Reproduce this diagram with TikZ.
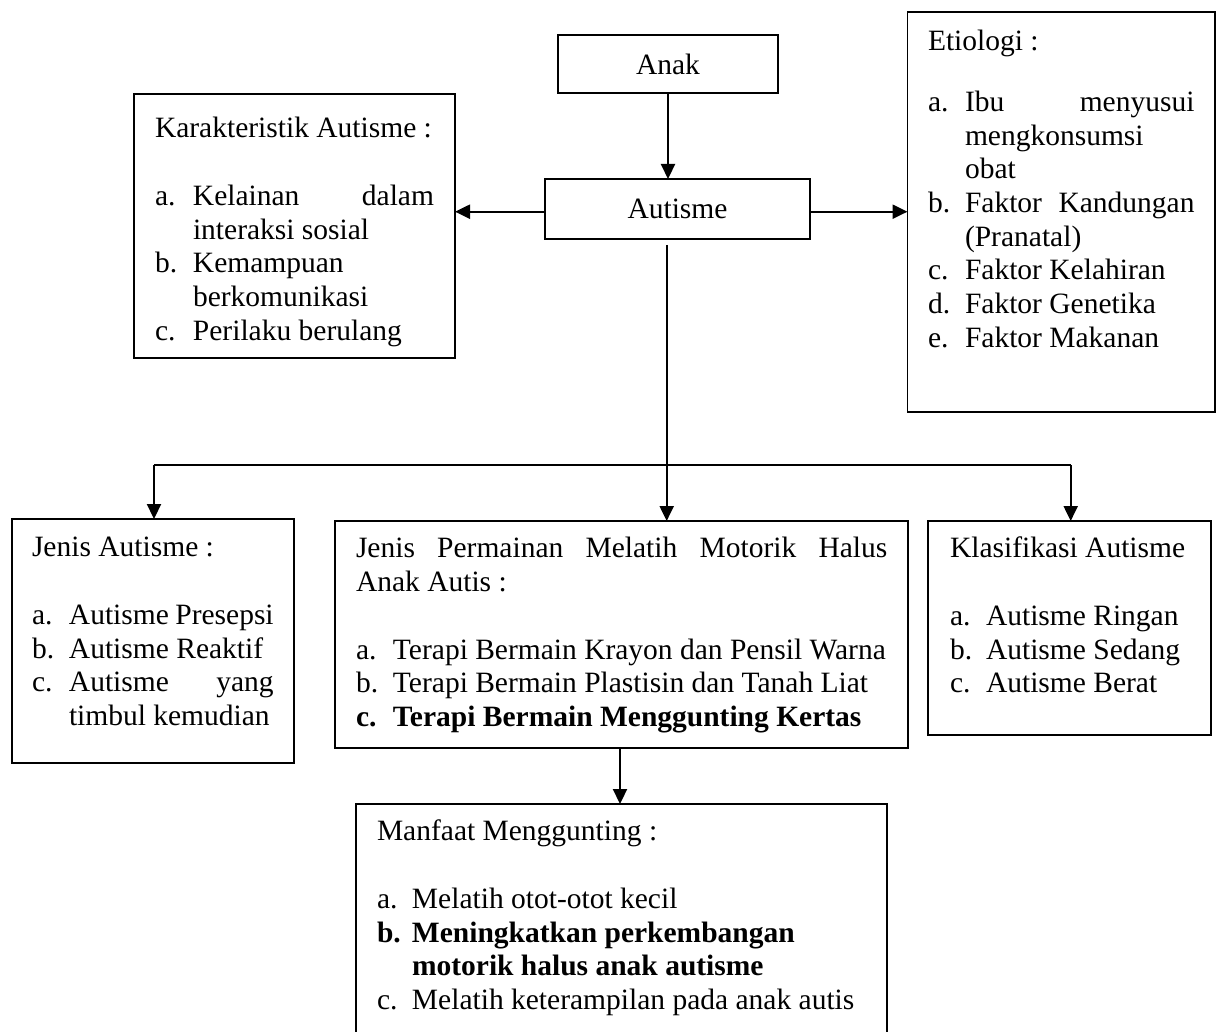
\documentclass[tikz,border=0pt]{standalone}
\usepackage{fontspec}
\setmainfont{Liberation Serif}
\usetikzlibrary{arrows.meta}
\newlength\lw
\newlength\tw
\newcommand\HL[1]{\hbox to\linewidth{\strut #1\hfil}}
\newcommand\BL{\hbox to\linewidth{\strut\hfil}}
\newcommand\IL[2]{\hbox to\linewidth{\strut\hbox to\lw{#1\hfil}#2\hfil}}
\newcommand\JL[2]{\hbox to\linewidth{\strut\hbox to\lw{#1\hfil}\makebox[\tw][s]{#2}\hfil}}
\newcommand\CL[1]{\hbox to\linewidth{\strut\hskip\lw #1\hfil}}
\tikzset{
  txt/.style={font=\fontsize{29.5}{33.7}\selectfont},
  box/.style={txt, draw, line width=1.8pt, anchor=north west, outer sep=0pt},
  cbox/.style={txt, draw, line width=1.8pt, inner sep=0pt, outer sep=0pt},
  arr/.style={line width=2.2pt, -{Triangle[length=15pt,width=14pt]}},
  conn/.style={line width=2.2pt},
}
\begin{document}
\begin{tikzpicture}[x=1pt,y=-1pt]
\path[use as bounding box, clip] (0,0) rectangle (1217,1032);
\fill[white] (0,0) rectangle (1217,1032);

% top boxes
\node[cbox, minimum width=220.3pt, minimum height=58.3pt] (anak) at (668,64.2) {Anak};
\node[cbox, minimum width=265pt, minimum height=60pt] (autisme) at (677.5,209) {Autisme};

\node[box, inner xsep=21pt, inner ysep=20.4pt] (kar) at (134,94)
 {\setlength\lw{38pt}\setlength\tw{241pt}\parbox[t][223.2pt][t]{279pt}{%
  \HL{Karakteristik Autisme :}
  \BL
  \JL{a.}{Kelainan dalam}
  \CL{interaksi sosial}
  \IL{b.}{Kemampuan}
  \CL{berkomunikasi}
  \IL{c.}{Perilaku berulang}}};

\node[box, inner xsep=20.5pt, inner ysep=15.4pt] (etio) at (907.5,12)
 {\setlength\lw{37pt}\setlength\tw{229.5pt}\parbox[t][368.9pt][t]{266.5pt}{%
  \HL{Etiologi :}
  \BL\kern-7pt
  \JL{a.}{Ibu menyusui}
  \CL{mengkonsumsi}
  \CL{obat}
  \JL{b.}{Faktor Kandungan}
  \CL{(Pranatal)}
  \IL{c.}{Faktor Kelahiran}
  \IL{d.}{Faktor Genetika}
  \IL{e.}{Faktor Makanan}}};

% second row
\node[box, inner xsep=20.3pt, inner ysep=14.4pt] (jenis) at (11.7,519)
 {\setlength\lw{37pt}\setlength\tw{204.7pt}\parbox[t][215.2pt][t]{241.7pt}{%
  \HL{Jenis Autisme :}
  \BL
  \IL{a.}{Autisme Presepsi}
  \IL{b.}{Autisme Reaktif}
  \JL{c.}{Autisme yang}
  \CL{timbul kemudian}}};

\node[box, inner xsep=20.7pt, inner ysep=13.4pt] (perm) at (335.3,521)
 {\setlength\lw{37pt}\setlength\tw{494.3pt}\parbox[t][200.2pt][t]{531.3pt}{%
  \HL{\makebox[\linewidth][s]{Jenis Permainan Melatih Motorik Halus}}
  \HL{Anak Autis :}
  \BL
  \IL{a.}{Terapi Bermain Krayon dan Pensil Warna}
  \IL{b.}{Terapi Bermain Plastisin dan Tanah Liat}
  \IL{\bfseries c.}{\bfseries Terapi Bermain Menggunting Kertas}}};

\node[box, inner xsep=22pt, inner ysep=13.4pt] (klas) at (928,521)
 {\setlength\lw{36pt}\setlength\tw{203pt}\parbox[t][187.2pt][t]{239pt}{%
  \HL{Klasifikasi Autisme}
  \BL
  \IL{a.}{Autisme Ringan}
  \IL{b.}{Autisme Sedang}
  \IL{c.}{Autisme Berat}}};

\node[box, inner xsep=21.3pt, inner ysep=13.4pt] (manf) at (355.7,804)
 {\setlength\lw{35pt}\setlength\tw{453.7pt}\parbox[t][214pt][t]{488.7pt}{%
  \HL{Manfaat Menggunting :}
  \BL
  \IL{a.}{Melatih otot-otot kecil}
  \IL{\bfseries b.}{\bfseries Meningkatkan perkembangan}
  \CL{\bfseries motorik halus anak autisme}
  \IL{c.}{Melatih keterampilan pada anak autis}}};

% connector points
\coordinate (hub) at (666.7,465);
\coordinate (hl) at (154,465);
\coordinate (hr) at (1070.7,465);
\coordinate (pmx) at (620,770);

% connectors
\draw[arr] (anak.south) -- (anak.south |- autisme.north);
\draw[arr] ([yshift=-2.7pt]autisme.west) -- ([yshift=-2.7pt]autisme.west -| kar.east);
\draw[arr] ([yshift=-2.7pt]autisme.east) -- ([yshift=-2.7pt]autisme.east -| etio.west);
\draw[conn] ([yshift=-6pt]autisme.south -| hub) -- (hub);
\draw[conn] (hl) -- (hr);
\draw[arr] (hl) -- (hl |- jenis.north);
\draw[arr] (hub) -- (hub |- perm.north);
\draw[arr] (hr) -- (hr |- klas.north);
\draw[arr] (perm.south -| pmx) -- (pmx |- manf.north);
\end{tikzpicture}
\end{document}
